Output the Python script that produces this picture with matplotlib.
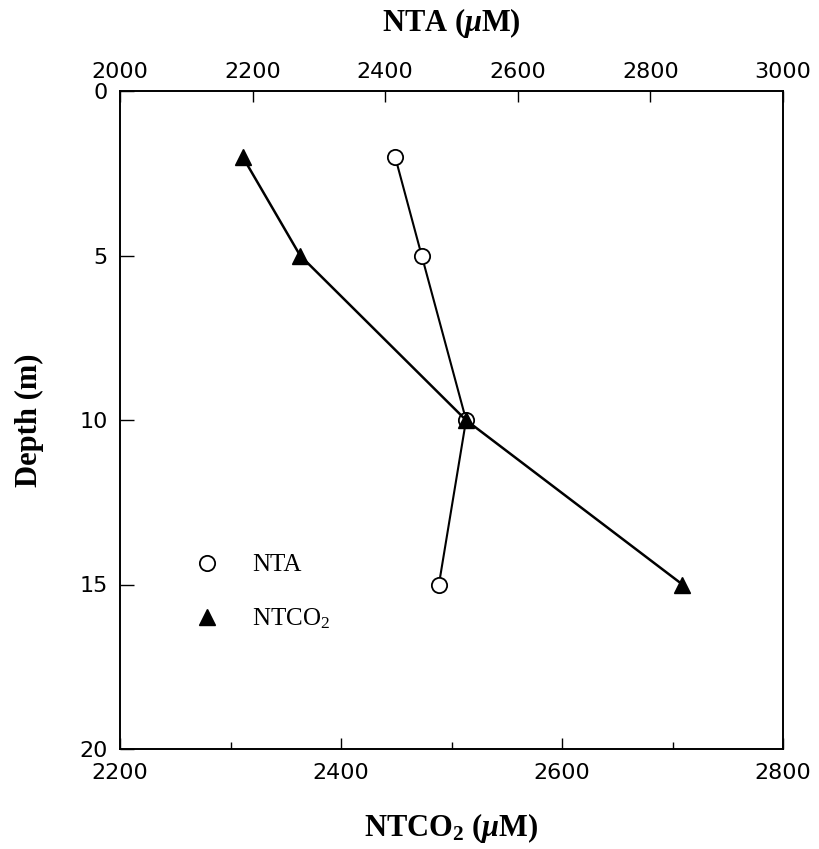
import matplotlib
matplotlib.use("Agg")
import matplotlib.pyplot as plt
from matplotlib.lines import Line2D

depth = [2, 5, 10, 15]
nta = [2415, 2455, 2522, 2481]
ntco2 = [2311, 2363, 2513, 2709]

nta_ticks = [2000, 2200, 2400, 2600, 2800, 3000]
ntco2_ticks = [2200, 2400, 2600, 2800]
ntco2_minor = [2300, 2500, 2700]
depth_ticks = [0, 5, 10, 15, 20]

plt.rcParams['mathtext.fontset'] = 'custom'
plt.rcParams['mathtext.it'] = 'Liberation Serif:italic:bold'
plt.rcParams['mathtext.rm'] = 'Liberation Serif:bold'

fig = plt.figure(figsize=(8.19, 8.49), dpi=100)
L, R, T, B = 120 / 819, 783 / 819, 1 - 91 / 849, 1 - 749 / 849
ax = fig.add_axes([L, B, R - L, T - B])
ax2 = ax.twiny()
ax2.set_zorder(0)
ax.set_zorder(1)
ax.patch.set_visible(False)

ax2.plot(nta, depth, color='black', lw=1.5, marker='o', ms=11,
         mfc='white', mec='black', mew=1.3)
ax.plot(ntco2, depth, color='black', lw=1.8, marker='^', ms=12,
        mfc='black', mec='black')

ax.set_xlim(2200, 2800)
ax2.set_xlim(2000, 3000)
ax.set_ylim(20, 0)

ax.set_xticks(ntco2_ticks)
ax.set_xticks(ntco2_minor, minor=True)
ax.set_yticks(depth_ticks)
ax2.set_xticks(nta_ticks)

ax.tick_params(axis='x', which='major', direction='in', length=8, width=1, pad=10, labelsize=16)
ax.tick_params(axis='x', which='minor', direction='in', length=5, width=1)
ax.tick_params(axis='y', which='major', direction='in', length=10, width=1, pad=9, labelsize=16)
ax2.tick_params(axis='x', which='major', direction='in', length=8, width=1, pad=6.5, labelsize=16)

for a in (ax, ax2):
    for lab in a.get_xticklabels() + a.get_yticklabels():
        lab.set_fontfamily('DejaVu Sans')
    for s in a.spines.values():
        s.set_linewidth(1.2)

lab_kw = dict(family='Liberation Serif', fontweight='bold', fontsize=22)
ax.set_xlabel(r'NTCO$_\mathregular{2}$ ($\mu$M)', labelpad=20, **lab_kw)
ax2.set_xlabel(r'NTA ($\mu$M)', labelpad=22, **lab_kw)
ax.set_ylabel('Depth (m)', labelpad=25, **lab_kw)

handles = [Line2D([], [], ls='none', marker='o', ms=11, mfc='white', mec='black', mew=1.3),
           Line2D([], [], ls='none', marker='^', ms=12, mfc='black', mec='black')]
ax.legend(handles, ['NTA', r'NTCO$_\mathregular{2}$'], loc='center left',
          bbox_to_anchor=(0.079, 0.238), frameon=False, handlelength=1.0,
          handletextpad=1.3, labelspacing=1.2,
          prop=dict(family='Liberation Serif', size=18))

fig.savefig('out.png', dpi=100)
